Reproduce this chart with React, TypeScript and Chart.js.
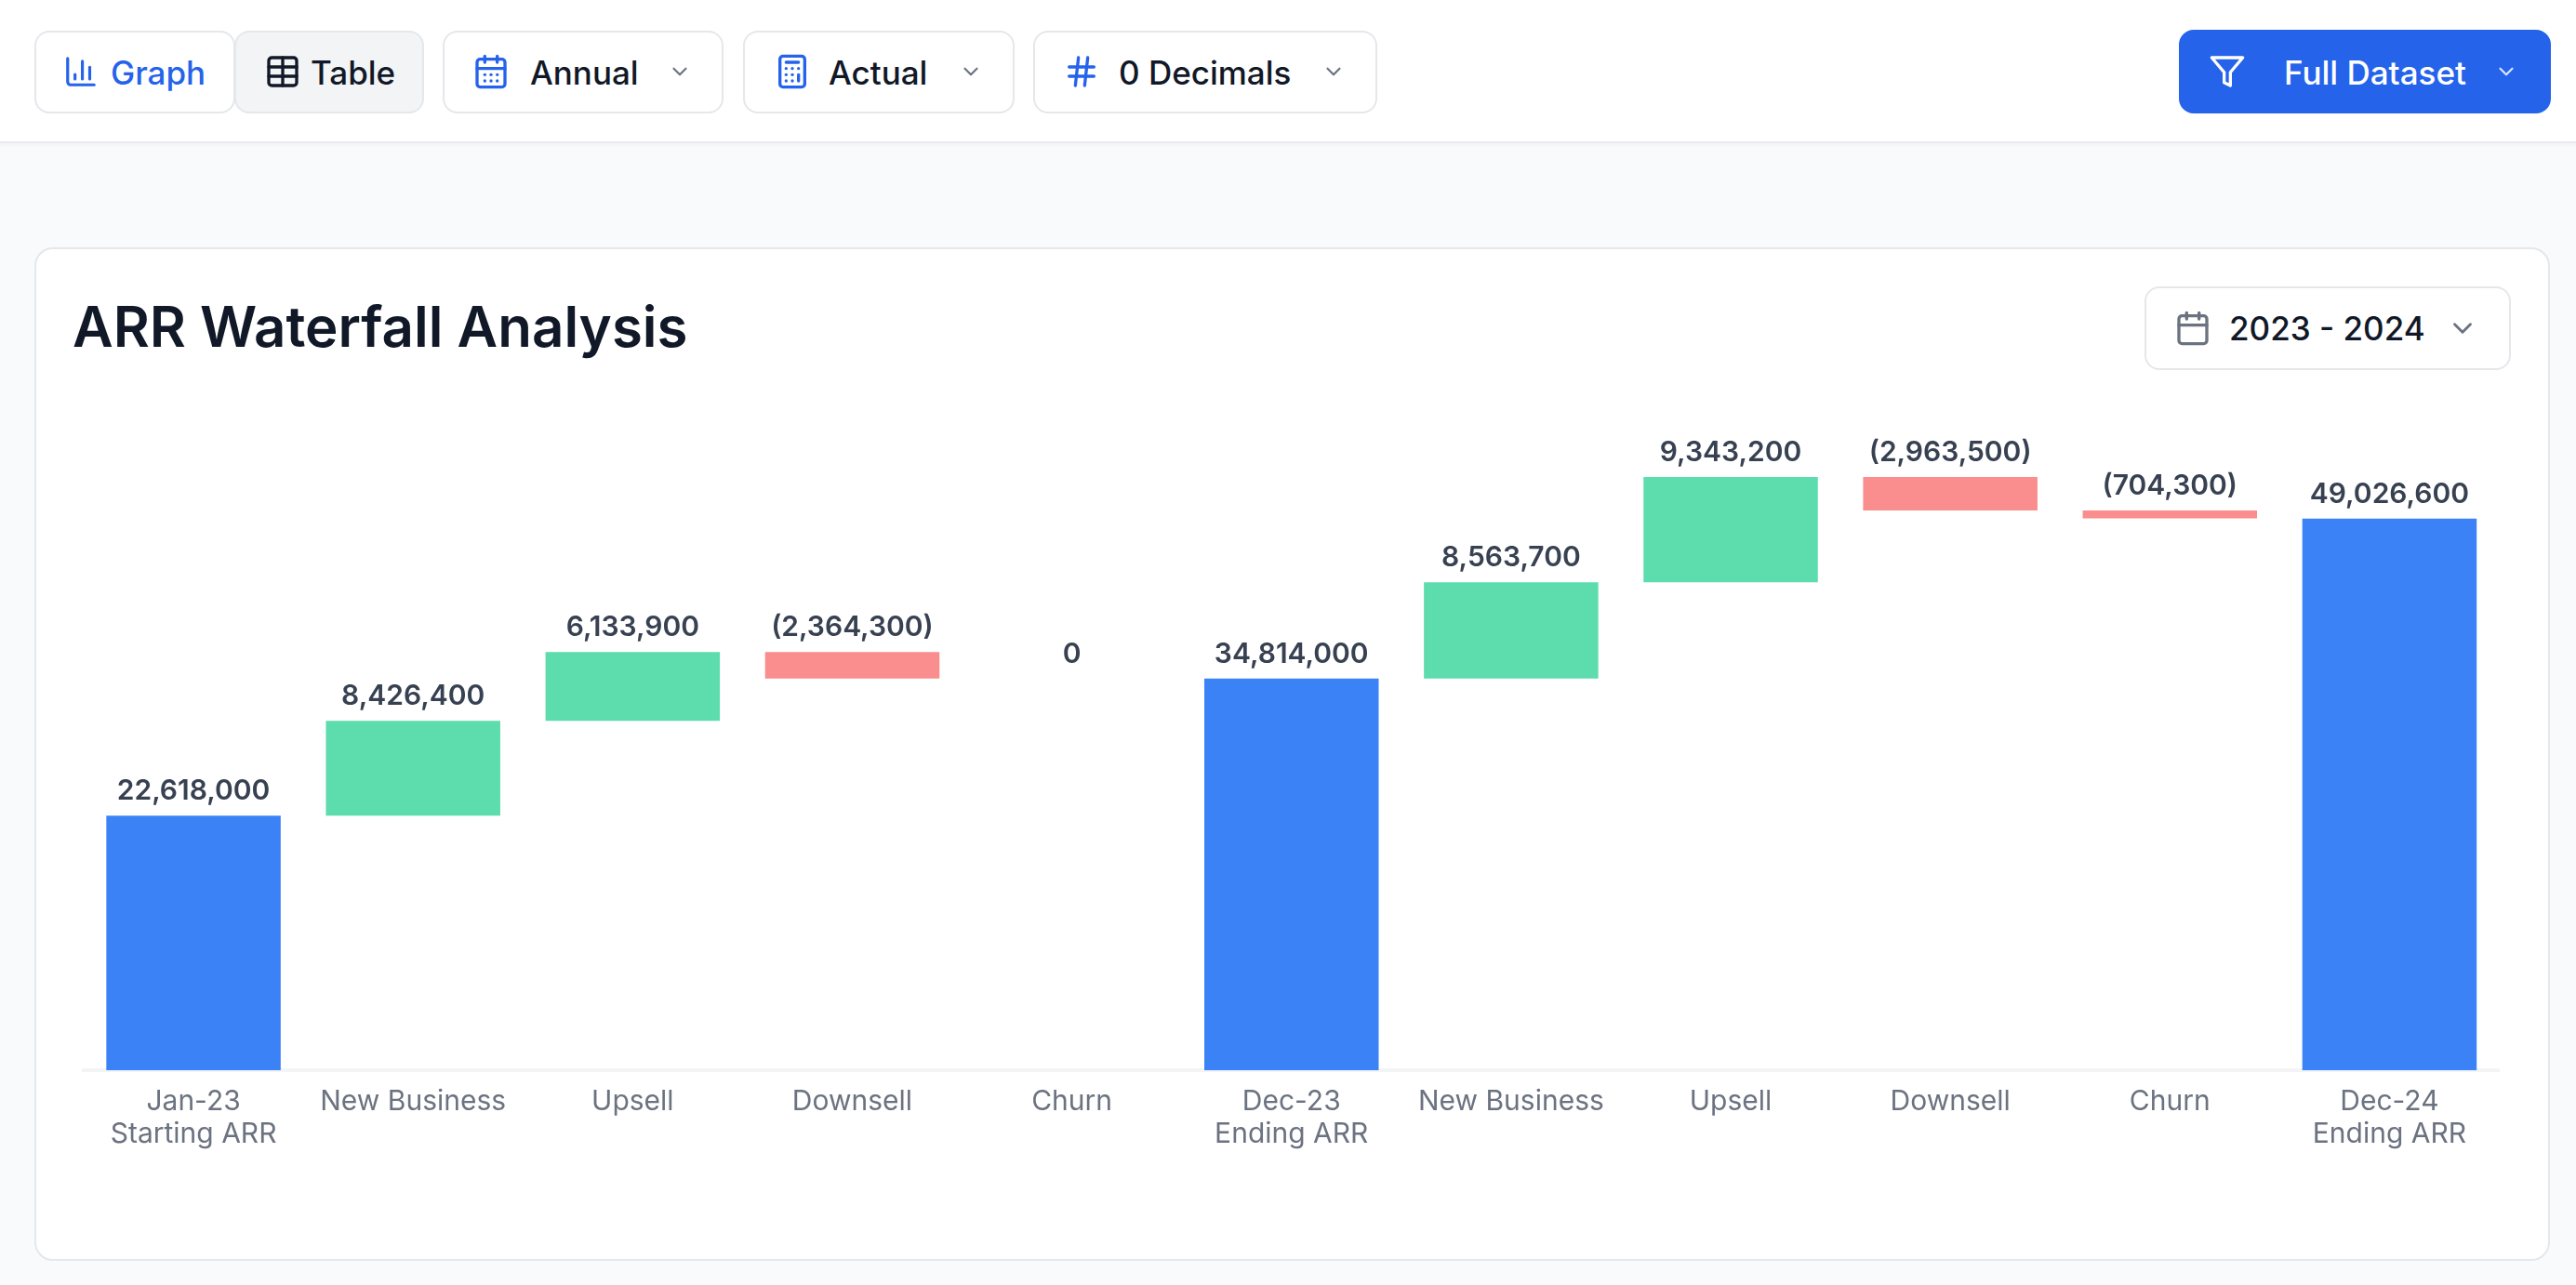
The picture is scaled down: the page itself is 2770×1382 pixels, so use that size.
import React, { useEffect, useRef } from "react";
import { Chart, registerables } from "chart.js";

Chart.register(...registerables);

const categories: string[][] = [
  ["Jan-23", "Starting ARR"], ["New Business"], ["Upsell"], ["Downsell"], ["Churn"],
  ["Dec-23", "Ending ARR"], ["New Business"], ["Upsell"], ["Downsell"], ["Churn"], ["Dec-24", "Ending ARR"],
];
const amounts = [22618000, 8426400, 6133900, -2364300, 0, 34814000, 8563700, 9343200, -2963500, -704300, 49026600];
const isTotal = [true, false, false, false, false, true, false, false, false, false, true];
const yMax = 60000000;

const BLUE = "#3b82f6";
const GREEN = "rgb(93,220,173)";
const RED = "rgb(250,141,141)";

function floatingRanges(): [number, number][] {
  let running = 0;
  return amounts.map((v, i) => {
    if (isTotal[i]) { running = v; return [0, v] as [number, number]; }
    const r: [number, number] = [running, running + v];
    running += v;
    return r;
  });
}

function fmt(v: number) {
  const s = Math.abs(v).toLocaleString("en-US");
  return v < 0 ? `(${s})` : s;
}

const labelPlugin = {
  id: "waterfallLabels",
  afterDatasetsDraw(chart: any) {
    const { ctx } = chart;
    const meta = chart.getDatasetMeta(0);
    ctx.save();
    ctx.font = '600 30px Inter';
    ctx.fillStyle = "#374151";
    ctx.textAlign = "center";
    ctx.textBaseline = "alphabetic";
    meta.data.forEach((el: any, i: number) => {
      const top = Math.min(el.y, el.base);
      ctx.fillText(fmt(amounts[i]), el.x, top - 17);
    });
    ctx.restore();
  },
};

const Icon = ({ x, cy, size, color, sw = 2, children }: any) => (
  <svg
    width={size} height={size} viewBox="0 0 24 24" fill="none" stroke={color} strokeWidth={sw}
    strokeLinecap="round" strokeLinejoin="round"
    style={{ position: "absolute", left: x, top: cy - size / 2 }}
  >
    {children}
  </svg>
);

const Txt = ({ x, cy, size, weight, color, children }: any) => (
  <div style={{
    position: "absolute", left: x, top: cy - 40, height: 80, lineHeight: "80px", whiteSpace: "nowrap",
    fontFamily: "Inter", fontSize: size, fontWeight: weight, color,
  }}>{children}</div>
);

const Box = ({ x, y, w, h, bg = "#fff", border = "#e5e7eb", r = 16, shadow }: any) => (
  <div style={{
    position: "absolute", left: x, top: y, width: w, height: h, background: bg, boxSizing: "border-box",
    border: `2px solid ${border}`, borderRadius: r, boxShadow: shadow,
  }} />
);

const Chevron = ({ x, cy, color = "#6b7280", size = 26 }: any) => (
  <Icon x={x - size / 2} cy={cy} size={size} color={color}><path d="m6 9 6 6 6-6" /></Icon>
);

const CalendarDays = ({ x, cy, color }: any) => (
  <Icon x={x} cy={cy} size={40} color={color}>
    <path d="M8 2v4" /><path d="M16 2v4" /><rect width="18" height="18" x="3" y="4" rx="2" /><path d="M3 10h18" />
    <path d="M8 14h.01" /><path d="M12 14h.01" /><path d="M16 14h.01" /><path d="M8 18h.01" /><path d="M12 18h.01" /><path d="M16 18h.01" />
  </Icon>
);

export default function App() {
  const ref = useRef<HTMLCanvasElement>(null);
  useEffect(() => {
    const chart = new Chart(ref.current!, {
      type: "bar",
      data: {
        labels: categories,
        datasets: [{
          data: floatingRanges(),
          backgroundColor: amounts.map((v, i) => (isTotal[i] ? BLUE : v < 0 ? RED : GREEN)),
          barPercentage: 0.794,
          categoryPercentage: 1,
          borderSkipped: false,
        }],
      },
      options: {
        animation: false,
        responsive: false,
        devicePixelRatio: 1,
        layout: { padding: { left: 53, right: 53.5, top: 25, bottom: 0 } },
        plugins: { legend: { display: false }, tooltip: { enabled: false }, title: { display: false } },
        scales: {
          x: {
            grid: { display: false },
            border: { display: true, color: "#f3f4f6", width: 4 },
            ticks: {
              color: "#6b7280", font: { family: "Inter", size: 30, weight: 400, lineHeight: 1.18 },
              autoSkip: false, maxRotation: 0, minRotation: 0, padding: 8,
            },
            afterFit: (s: any) => { s.height = 189; },
          },
          y: { display: false, min: 0, max: yMax },
        },
      },
      plugins: [labelPlugin],
    } as any);
    return () => chart.destroy();
  }, []);

  return (
    <div style={{ position: "absolute", left: 0, top: 0, width: 2770, height: 1382, overflow: "hidden", background: "#f9fafb" }}>
      <div style={{ position: "absolute", left: 0, top: 0, width: 2770, height: 154, background: "#fff", borderBottom: "2px solid #e9ebef", boxSizing: "border-box", boxShadow: "0 2px 4px rgba(0,0,0,0.04)" }} />

      <Box x={37} y={33} w={216} h={89} />
      <Icon x={68} cy={77} size={38} color="#2563eb"><path d="M3 3v16a2 2 0 0 0 2 2h16" /><path d="M18 17V9" /><path d="M13 17V5" /><path d="M8 17v-3" /></Icon>
      <Txt x={119} cy={77.5} size={35} weight={500} color="#2563eb">Graph</Txt>

      <Box x={252} y={33} w={204} h={89} bg="#f3f4f6" />
      <Icon x={284} cy={77} size={40} color="#111827"><path d="M12 3v18" /><rect width="18" height="18" x="3" y="3" rx="2" /><path d="M3 9h18" /><path d="M3 15h18" /></Icon>
      <Txt x={334} cy={77.5} size={35} weight={500} color="#111827">Table</Txt>

      <Box x={476} y={33} w={302} h={89} />
      <CalendarDays x={508} cy={77} color="#2563eb" />
      <Txt x={570} cy={77.5} size={35} weight={500} color="#111827">Annual</Txt>
      <Chevron x={731} cy={77} />

      <Box x={799} y={33} w={292} h={89} />
      <Icon x={832} cy={77} size={40} color="#2563eb"><rect width="16" height="20" x="4" y="2" rx="2" /><line x1="8" x2="16" y1="6" y2="6" /><line x1="16" x2="16" y1="14" y2="18" /><path d="M16 10h.01" /><path d="M12 10h.01" /><path d="M8 10h.01" /><path d="M12 14h.01" /><path d="M8 14h.01" /><path d="M12 18h.01" /><path d="M8 18h.01" /></Icon>
      <Txt x={891} cy={77.5} size={35} weight={500} color="#111827">Actual</Txt>
      <Chevron x={1044} cy={77} />

      <Box x={1111} y={33} w={370} h={89} />
      <Icon x={1143} cy={77} size={40} color="#2563eb"><line x1="4" x2="20" y1="9" y2="9" /><line x1="4" x2="20" y1="15" y2="15" /><line x1="10" x2="8" y1="3" y2="21" /><line x1="16" x2="14" y1="3" y2="21" /></Icon>
      <Txt x={1203} cy={77.5} size={35} weight={500} color="#111827">0 Decimals</Txt>
      <Chevron x={1434} cy={77} />

      <Box x={2343} y={32} w={400} h={90} bg="#2563eb" border="#2563eb" />
      <Icon x={2375} cy={77} size={40} color="#fff"><polygon points="22 3 2 3 10 12.46 10 19 14 21 14 12.46 22 3" /></Icon>
      <Txt x={2456} cy={77.5} size={35} weight={500} color="#fff">Full Dataset</Txt>
      <Chevron x={2695} cy={77} color="#dbe6fd" />

      <Box x={37} y={266} w={2705} h={1090} r={20} />
      <Txt x={78} cy={351} size={60} weight={600} color="#111827">ARR Waterfall Analysis</Txt>

      <Box x={2306} y={308} w={394} h={90} />
      <Icon x={2338} cy={353} size={40} color="#6b7280"><path d="M8 2v4" /><path d="M16 2v4" /><rect width="18" height="18" x="3" y="4" rx="2" /><path d="M3 10h18" /></Icon>
      <Txt x={2397} cy={353} size={35} weight={500} color="#111827">2023 - 2024</Txt>
      <Chevron x={2648} cy={353} size={34} />

      <canvas ref={ref} width={2704} height={940} style={{ position: "absolute", left: 37, top: 400, width: 2704, height: 940 }} />
    </div>
  );
}
